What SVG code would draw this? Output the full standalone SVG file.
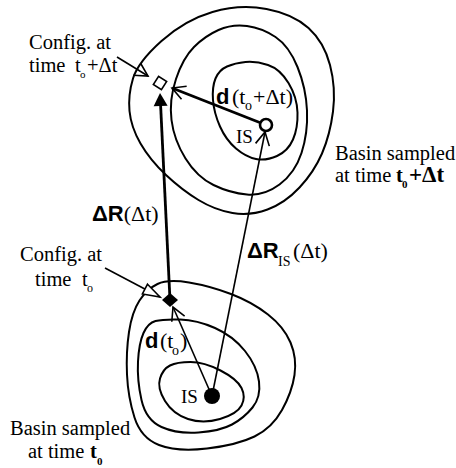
<svg xmlns="http://www.w3.org/2000/svg" width="456" height="468" viewBox="0 0 456 468">
<style>
.bg{fill:#fff}
.contour{fill:none;stroke:#000;stroke-width:2}
.thin{stroke:#000;stroke-width:1.6;fill:none}
.thick{stroke:#000;stroke-width:2.8;fill:none}
.t{font-family:"Liberation Serif","Times New Roman",serif;font-size:20.5px;fill:#000}
.lab{font-family:"Liberation Serif","Times New Roman",serif;font-size:22px;fill:#000}
.bs{font-family:"Liberation Sans",Arial,sans-serif;font-weight:bold}
.bf{font-weight:bold}
.sub{font-size:12px}
</style>
<defs>
<marker id="vee" markerUnits="userSpaceOnUse" markerWidth="40" markerHeight="40" viewBox="-20 -20 40 40" refX="0" refY="0" orient="auto" overflow="visible">
<path d="M-13,-7 L0,0 L-13,7" fill="none" stroke="#000" stroke-width="1.6"/>
</marker>
<marker id="triOpen" markerUnits="userSpaceOnUse" markerWidth="40" markerHeight="40" viewBox="-20 -20 40 40" refX="0" refY="0" orient="auto" overflow="visible">
<path d="M-17,-5.5 L0,0 L-17,5.5 Z" fill="#fff" stroke="#000" stroke-width="1.6"/>
</marker>
<marker id="triFill" markerUnits="userSpaceOnUse" markerWidth="40" markerHeight="40" viewBox="-20 -20 40 40" refX="0" refY="0" orient="auto" overflow="visible">
<path d="M-1,-7 L12,0 L-1,7 Z" fill="#000"/>
</marker>
</defs>
<rect class="bg" x="0" y="0" width="456" height="468"/>

<g id="basin-top">
<path class="contour" d="M133,78.5 Q138,62 161.5,41 Q185,20 212.5,12 Q240,4 266.5,9 Q293,14 308.5,28 Q324,42 330,65 Q336,88 333,111.5 Q330,135 322,153.5 Q314,172 299.5,187.5 Q285,203 267.5,209.5 Q250,216 232.5,213 Q215,210 198.5,200 Q182,190 166,175 Q150,160 140.5,143.5 Q131,127 129.5,111 Q128,95 133,78.5 Z"/>
<path class="contour" d="M176,79 Q183,58 194,47 Q205,36 218.5,30 Q232,24 247,26 Q262,28 275.5,37 Q289,46 297.5,67 Q306,88 307,110.5 Q308,133 301.5,153 Q295,173 279.5,184.5 Q264,196 247,194.5 Q230,193 213.5,185 Q197,177 185.5,158.5 Q174,140 171.5,120 Q169,100 176,79 Z"/>
<path class="contour" d="M215.5,78.5 Q219,70 227,66.5 Q235,63 245.5,62 Q256,61 268,65 Q280,69 288.5,83 Q297,97 297.5,112.5 Q298,128 293,139.5 Q288,151 277,156 Q266,161 256,159 Q246,157 236,148.5 Q226,140 220,126.5 Q214,113 213,100 Q212,87 215.5,78.5 Z"/>
</g>

<g id="basin-bottom">
<path class="contour" d="M139.5,300.5 Q147,289 157.5,284 Q168,279 189,282.5 Q210,286 231,294 Q252,302 268,314.5 Q284,327 290.5,342.5 Q297,358 294.5,375 Q292,392 282,410 Q272,428 254.5,436.5 Q237,445 207,448.5 Q177,452 159,445 Q141,438 134.5,417.5 Q128,397 127,374.5 Q126,352 129,332 Q132,312 139.5,300.5 Z"/>
<path class="contour" d="M143.5,333 Q148,323 155.5,321 Q163,319 180,319.5 Q197,320 215,328 Q233,336 245,351 Q257,366 259,381.5 Q261,397 252.5,407.5 Q244,418 232,424.5 Q220,431 198.5,432.5 Q177,434 161.5,427 Q146,420 141.5,400 Q137,380 138,361.5 Q139,343 143.5,333 Z"/>
<path class="contour" d="M160,378.5 Q163,369 170,365.5 Q177,362 190.5,362 Q204,362 220.5,370.5 Q237,379 241.5,388 Q246,397 241.5,405.5 Q237,414 220,419 Q203,424 188,419 Q173,414 165,401 Q157,388 160,378.5 Z"/>
</g>

<g id="connectors">
<line class="thin" x1="117" y1="57" x2="148" y2="76" marker-end="url(#vee)"/>
<line class="thin" x1="105" y1="268" x2="160" y2="297" marker-end="url(#triOpen)"/>
<line class="thick" x1="170" y1="300" x2="160.6" y2="105" marker-end="url(#triFill)"/>
<line class="thick" x1="266" y1="125" x2="172" y2="88" marker-end="url(#vee)"/>
<line class="thin" x1="212" y1="396" x2="173" y2="307" marker-end="url(#vee)"/>
<line class="thin" x1="212" y1="396" x2="265" y2="132" marker-end="url(#vee)"/>
</g>

<g id="is-top">
<circle cx="266" cy="125" r="6" fill="#fff" stroke="#000" stroke-width="2.6"/>
<text class="t" x="236" y="143" style="font-size:19px">IS</text>
</g>
<g id="is-bottom">
<circle cx="212" cy="396" r="8" fill="#000"/>
<text class="t" x="181" y="403" style="font-size:19px">IS</text>
</g>
<g id="config-t0">
<polygon points="170,293 178,300 170,307 162,300" fill="#000"/>
<text class="t" x="20" y="261">Config. at</text>
<text class="t" y="286"><tspan x="35">time</tspan><tspan x="82">t</tspan><tspan x="87" y="292" class="sub">o</tspan></text>
</g>
<g id="config-t0dt">
<rect x="-4.8" y="-4.8" width="9.6" height="9.6" transform="translate(160,83) rotate(33)" fill="#fff" stroke="#000" stroke-width="1.6"/>
<text class="t" x="29" y="49">Config. at</text>
<text class="t" y="72"><tspan x="29">time</tspan><tspan x="75">t</tspan><tspan x="80" y="78" style="font-size:11px">o</tspan><tspan x="87" y="72">+Δt</tspan></text>
</g>

<g id="labels">
<text class="lab" x="92" y="221"><tspan class="bs">ΔR</tspan><tspan>(Δt)</tspan></text>
<text class="lab" x="247" y="258"><tspan class="bs">ΔR</tspan><tspan x="278" y="266" style="font-size:14px">IS</tspan><tspan x="293" y="258">(Δt)</tspan></text>
<text class="lab" y="104"><tspan x="216" class="bs">d</tspan><tspan x="232">(t</tspan><tspan x="245" y="110" style="font-size:14px">o</tspan><tspan x="253" y="104">+Δt)</tspan></text>
<text class="lab" y="348"><tspan x="145" class="bs">d</tspan><tspan x="160">(t</tspan><tspan x="172" y="355" style="font-size:14px">o</tspan><tspan x="180" y="348">)</tspan></text>
</g>

<g id="basin-label-top">
<text class="t" x="335" y="160">Basin sampled</text>
<text class="t" y="182"><tspan x="335">at time</tspan><tspan x="396" class="bf">t</tspan><tspan x="402" y="188" class="bf" style="font-size:11px">0</tspan><tspan x="409" y="182" class="bf" style="font-size:23px">+Δt</tspan></text>
</g>
<g id="basin-label-bottom">
<text class="t" x="10" y="435">Basin sampled</text>
<text class="t" y="458"><tspan x="28">at time</tspan><tspan x="90" class="bf">t</tspan><tspan x="97" y="465" class="bf" style="font-size:11px">0</tspan></text>
</g>
</svg>
